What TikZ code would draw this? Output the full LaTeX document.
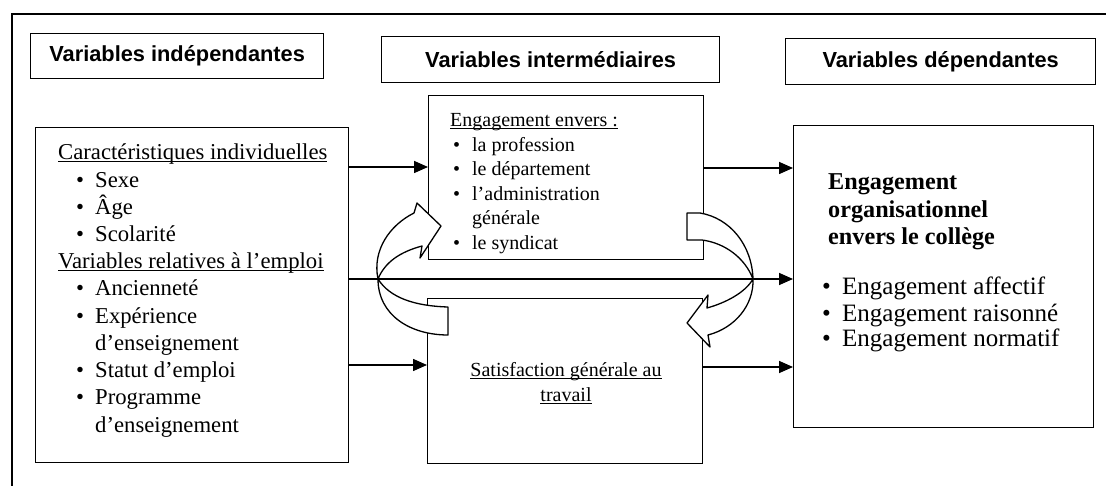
\documentclass[tikz,border=0pt]{standalone}
\usepackage{fontspec}
\setmainfont{Liberation Serif}
\newfontfamily\headfont{Liberation Sans}
\usetikzlibrary{arrows.meta}

% underline sitting just under the baseline
\newcommand\undl[1]{\leavevmode\setbox0\hbox{#1}\rlap{\rule[-2.4pt]{\wd0}{0.9pt}}\box0}
% bullet followed by a fixed gap
\newcommand\bul[1]{\makebox[#1][l]{\textbullet}}

\begin{document}
\begin{tikzpicture}[x=1pt,y=-1pt,
  frame/.style={line width=2.4pt},
  box/.style={draw, line width=1.3pt, inner sep=0pt, anchor=north west},
  head/.style={font=\headfont\bfseries\fontsize{21.8}{26}\selectfont},
  flow/.style={line width=1.6pt, -{Triangle[length=14pt,width=12pt]}},
  twist/.style={draw, fill=white, line width=1.3pt, line join=round},
  txt/.style={anchor=base west, inner sep=0pt},
  bigtxt/.style={txt, font=\fontsize{22.7}{27}\selectfont},
  midtxt/.style={txt, font=\fontsize{20}{24}\selectfont},
  rtxt/.style={txt, font=\fontsize{25}{28}\selectfont},
  rbold/.style={txt, font=\bfseries\fontsize{24.2}{28}\selectfont}]

\useasboundingbox (0,0) rectangle (1106,486);

% outer frame (left and top edges)
\draw[frame] (12,486) -- (12,14) -- (1106,14);

% column headers
\node[box, head, minimum width=293, minimum height=45] (hL) at (30,33) {Variables indépendantes};
\node[box, head, minimum width=338, minimum height=46] (hM) at (381,36) {Variables intermédiaires};
\node[box, head, minimum width=310, minimum height=46] (hR) at (785,38) {Variables dépendantes};

% main boxes
\node[box, minimum width=313, minimum height=335] (L) at (35,127) {};
\node[box, minimum width=275, minimum height=164] (T) at (428,95) {};
\node[box, minimum width=275, minimum height=165] (S) at (427,298) {};
\node[box, minimum width=300, minimum height=302] (R) at (793,125) {};

% independent variables
\node[bigtxt] (l0) at (58,160) {\undl{Caractéristiques individuelles}};
\node[bigtxt] (l1) at (76,187.2) {\bul{19pt}Sexe};
\node[bigtxt] (l2) at (76,214.4) {\bul{19pt}Âge};
\node[bigtxt] (l3) at (76,241.6) {\bul{19pt}Scolarité};
\node[bigtxt] (l4) at (58,268.8) {\undl{Variables relatives à l’emploi}};
\node[bigtxt] (l5) at (76,296.0) {\bul{19pt}Ancienneté};
\node[bigtxt] (l6) at (76,323.2) {\bul{19pt}Expérience};
\node[bigtxt] (l7) at (95,350.4) {d’enseignement};
\node[bigtxt] (l8) at (76,377.6) {\bul{19pt}Statut d’emploi};
\node[bigtxt] (l9) at (76,404.8) {\bul{19pt}Programme};
\node[bigtxt] (l10) at (95,432.0) {d’enseignement};

% intermediate variables
\node[midtxt] (t0) at (450,127) {\undl{Engagement envers :}};
\node[midtxt] (t1) at (453,151.5) {\bul{19pt}la profession};
\node[midtxt] (t2) at (453,176) {\bul{19pt}le département};
\node[midtxt] (t3) at (453,200.5) {\bul{19pt}l’administration};
\node[midtxt] (t4) at (472,225) {générale};
\node[midtxt] (t5) at (453,249.5) {\bul{19pt}le syndicat};

\node[midtxt, anchor=base] (s0) at (566,376) {\undl{Satisfaction générale au}};
\node[midtxt, anchor=base] (s1) at (566,401) {\undl{travail}};

% dependent variables
\node[rbold] (r0) at (828,190) {Engagement};
\node[rbold] (r1) at (828,218) {organisationnel};
\node[rbold] (r2) at (828,245) {envers le collège};
\node[rtxt] (r3) at (822,295) {\bul{20pt}Engagement affectif};
\node[rtxt] (r4) at (822,322) {\bul{20pt}Engagement raisonné};
\node[rtxt] (r5) at (822,347) {\bul{20pt}Engagement normatif};

% connector levels
\coordinate (y1) at (0,167);
\coordinate (y2) at (0,279);
\coordinate (y3) at (0,365);
\coordinate (y4) at (0,168);
\coordinate (y5) at (0,367);

\draw[flow] (L.east |- y1) -- (T.west |- y1);
\draw[flow] (L.east |- y2) -- (R.west |- y2);
\draw[flow] (L.east |- y3) -- (S.west |- y3);
\draw[flow] (T.east |- y4) -- (R.west |- y4);
\draw[flow] (S.east |- y5) -- (R.west |- y5);

% twisted block arrow on the left: satisfaction -> engagement
\path[twist] (448,307) .. controls (415,306) and (390,298) .. (378,279)
  .. controls (372,250) and (390,225) .. (414,213)
  -- (417,203) -- (441,226) -- (420,258) -- (422,246)
  .. controls (400,252) and (385,262) .. (378,279)
  .. controls (378,315) and (410,335) .. (448,335) -- cycle;

% twisted block arrow on the right: engagement -> satisfaction
\path[twist] (687,213) -- (700,213)
  .. controls (730,218) and (752,245) .. (753,279)
  .. controls (754,305) and (735,328) .. (708,335)
  -- (710,347) -- (687,323) -- (708,295) -- (707,308)
  .. controls (725,303) and (745,293) .. (753,279)
  .. controls (745,258) and (725,243) .. (702,240)
  -- (687,240) -- cycle;

\end{tikzpicture}
\end{document}
